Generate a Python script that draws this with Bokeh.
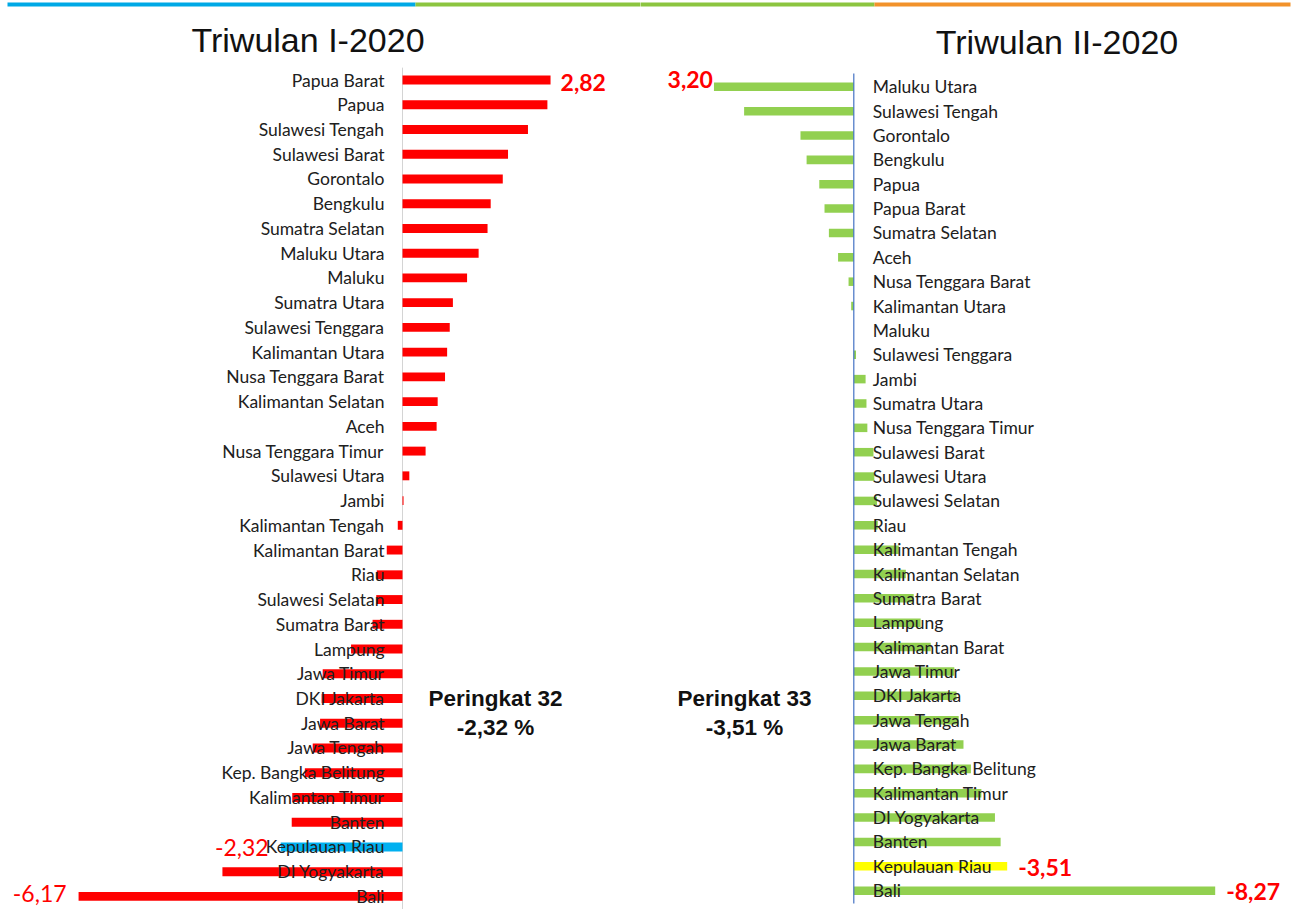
from bokeh.plotting import figure
from bokeh.models import Range1d, ColumnDataSource
from bokeh.layouts import row
from bokeh.embed import file_html
from bokeh.resources import INLINE
from bokeh.core.properties import value

# ---------------- data ----------------
q1_regions = ["Papua Barat", "Papua", "Sulawesi Tengah", "Sulawesi Barat", "Gorontalo",
              "Bengkulu", "Sumatra Selatan", "Maluku Utara", "Maluku", "Sumatra Utara",
              "Sulawesi Tenggara", "Kalimantan Utara", "Nusa Tenggara Barat",
              "Kalimantan Selatan", "Aceh", "Nusa Tenggara Timur", "Sulawesi Utara", "Jambi",
              "Kalimantan Tengah", "Kalimantan Barat", "Riau", "Sulawesi Selatan",
              "Sumatra Barat", "Lampung", "Jawa Timur", "DKI Jakarta", "Jawa Barat",
              "Jawa Tengah", "Kep. Bangka Belitung", "Kalimantan Timur", "Banten",
              "Kepulauan Riau", "DI Yogyakarta", "Bali"]
q1_values = [2.82, 2.76, 2.39, 2.01, 1.91, 1.68, 1.62, 1.45, 1.23, 0.96, 0.90, 0.85, 0.81,
             0.67, 0.65, 0.44, 0.13, 0.02, -0.09, -0.30, -0.49, -0.50, -0.57, -0.98,
             -1.52, -1.54, -1.57, -1.71, -1.86, -2.10, -2.11, -2.32, -3.43, -6.17]

q2_regions = ["Maluku Utara", "Sulawesi Tengah", "Gorontalo", "Bengkulu", "Papua",
              "Papua Barat", "Sumatra Selatan", "Aceh", "Nusa Tenggara Barat",
              "Kalimantan Utara", "Maluku", "Sulawesi Tenggara", "Jambi", "Sumatra Utara",
              "Nusa Tenggara Timur", "Sulawesi Barat", "Sulawesi Utara", "Sulawesi Selatan",
              "Riau", "Kalimantan Tengah", "Kalimantan Selatan", "Sumatra Barat", "Lampung",
              "Kalimantan Barat", "Jawa Timur", "DKI Jakarta", "Jawa Tengah", "Jawa Barat",
              "Kep. Bangka Belitung", "Kalimantan Timur", "DI Yogyakarta", "Banten",
              "Kepulauan Riau", "Bali"]
q2_values = [3.20, 2.51, 1.22, 1.08, 0.79, 0.67, 0.57, 0.36, 0.12, 0.06, 0.00, -0.05,
             -0.27, -0.29, -0.31, -0.45, -0.47, -0.53, -0.55, -1.03, -1.19, -1.37, -1.53,
             -1.76, -2.30, -2.35, -2.40, -2.51, -2.68, -2.92, -3.23, -3.36, -3.51, -8.27]

titles = ["Triwulan I-2020", "Triwulan II-2020"]
focus_region = "Kepulauan Riau"
rank_text = [["Peringkat 32", "-2,32 %"], ["Peringkat 33", "-3,51 %"]]

# ---------------- styles / layout ----------------
H = 909
W1, W2 = 640, 651
LABEL_FONT = "Lato"
LABEL_SIZE = "17.5px"
LABEL_COLOR = "#202020"
VAL_RED = "#ff0000"


def fmt(v):
    return f"{v:.2f}".replace(".", ",")


# left panel pixel geometry (page px)
AXL, SL = 402.0, 52.5     # zero-line x, px per unit
Y0L, DYL = 79.5, 24.74    # first row centre, row pitch

# right panel pixel geometry
AXR, SR = 853.3, 43.7
Y0R, DYR = 86.3, 24.36
XR0 = W1                  # page x where right figure starts


def lx(px):
    return (px - AXL) / SL


def ly(py):
    return (py - Y0L) / DYL


def rx(px):
    return (AXR - px) / SR


def ry(py):
    return (py - Y0R) / DYR


def base_fig(w, xr, yr):
    p = figure(width=w, height=H, x_range=xr, y_range=yr, output_backend="svg",
               toolbar_location=None, min_border=0, tools="")
    p.axis.visible = False
    p.grid.visible = False
    p.outline_line_color = None
    p.background_fill_color = "white"
    p.border_fill_color = "white"
    return p


# ================= left panel =================
p1 = base_fig(W1, Range1d(lx(0), lx(W1)), Range1d(ly(H), ly(0)))

n1 = len(q1_regions)
src1 = ColumnDataSource(dict(
    y=list(range(n1)), v=q1_values, name=q1_regions,
    color=["#00b0f0" if r == focus_region else "#ff0000" for r in q1_regions]))

# top stripe
p1.quad(left=[lx(7)], right=[lx(415)], top=[ly(2)], bottom=[ly(6)], color="#00a9e6", line_width=0)
p1.quad(left=[lx(415)], right=[lx(W1 + 2)], top=[ly(2)], bottom=[ly(6)], color="#8cc540", line_width=0)

p1.segment(x0=[0], x1=[0], y0=[-0.5], y1=[ly(H)], line_color="#d4d4d4", line_width=1)
p1.hbar(y="y", left=0, right="v", height=0.36, color="color", source=src1, line_width=0)
p1.text(x=0, y="y", text="name", source=src1, x_offset=-18, text_align="right",
        text_baseline="middle", text_font=value(LABEL_FONT), text_font_size=LABEL_SIZE,
        text_color=LABEL_COLOR)

i_top, i_f, i_bot = 0, q1_regions.index(focus_region), n1 - 1
p1.text(x=[q1_values[i_top]], y=[i_top], text=[fmt(q1_values[i_top])], x_offset=10, y_offset=2,
        text_align="left", text_baseline="middle", text_font=value(LABEL_FONT),
        text_font_size="23px", text_font_style="bold", text_color=VAL_RED)
p1.text(x=[q1_values[i_f]], y=[i_f], text=[fmt(q1_values[i_f])], x_offset=-12, y_offset=1,
        text_align="right", text_baseline="middle", text_font=value(LABEL_FONT),
        text_font_size="23px", text_color=VAL_RED)
p1.text(x=[q1_values[i_bot]], y=[i_bot], text=[fmt(q1_values[i_bot])], x_offset=-12, y_offset=-3,
        text_align="right", text_baseline="middle", text_font=value(LABEL_FONT),
        text_font_size="23px", text_color=VAL_RED)

p1.text(x=[lx(307.5)], y=[ly(39)], text=[titles[0]], text_align="center",
        text_baseline="alphabetic", text_font=value("Liberation Sans"),
        text_font_size="34px", text_color="#111111")
p1.text(x=[lx(495), lx(495)], y=[ly(698), ly(727)], text=rank_text[0], text_align="center",
        text_baseline="middle", text_font=value("Liberation Sans"), text_font_size="22.5px",
        text_font_style="bold", text_color="#111111")

# ================= right panel =================
p2 = base_fig(W2, Range1d(rx(XR0), rx(XR0 + W2)), Range1d(ry(H), ry(0)))

n2 = len(q2_regions)
src2 = ColumnDataSource(dict(
    y=list(range(n2)), v=q2_values, name=q2_regions,
    color=["#ffff00" if r == focus_region else "#92d050" for r in q2_regions]))

p2.quad(left=[rx(XR0 - 2)], right=[rx(874)], top=[ry(2)], bottom=[ry(6)], color="#8cc540", line_width=0)
p2.quad(left=[rx(874)], right=[rx(1290)], top=[ry(2)], bottom=[ry(6)], color="#f2922a", line_width=0)

p2.hbar(y="y", left=0, right="v", height=0.35, color="color", source=src2, line_width=0)
p2.segment(x0=[0], x1=[0], y0=[ry(73)], y1=[ry(903)], line_color="#4472c4", line_width=1.2)
p2.text(x=0, y="y", text="name", source=src2, x_offset=19, text_align="left",
        text_baseline="middle", text_font=value(LABEL_FONT), text_font_size=LABEL_SIZE,
        text_color=LABEL_COLOR)

j_top, j_f, j_bot = 0, q2_regions.index(focus_region), n2 - 1
p2.text(x=[q2_values[j_top]], y=[j_top], text=[fmt(q2_values[j_top])], x_offset=-1, y_offset=-7,
        text_align="right", text_baseline="middle", text_font=value(LABEL_FONT),
        text_font_size="23px", text_font_style="bold", text_color=VAL_RED)
p2.text(x=[q2_values[j_f], q2_values[j_bot]], y=[j_f, j_bot],
        text=[fmt(q2_values[j_f]), fmt(q2_values[j_bot])], x_offset=11, y_offset=1,
        text_align="left", text_baseline="middle", text_font=value(LABEL_FONT),
        text_font_size="23px", text_font_style="bold", text_color=VAL_RED)

p2.text(x=[rx(1056.5)], y=[ry(41)], text=[titles[1]], text_align="center",
        text_baseline="alphabetic", text_font=value("Liberation Sans"),
        text_font_size="34px", text_color="#111111")
p2.text(x=[rx(744), rx(744)], y=[ry(698), ry(727)], text=rank_text[1], text_align="center",
        text_baseline="middle", text_font=value("Liberation Sans"), text_font_size="22.5px",
        text_font_style="bold", text_color="#111111")

layout = row(p1, p2, spacing=0)

open("out.html", "w").write(file_html(layout, INLINE))
